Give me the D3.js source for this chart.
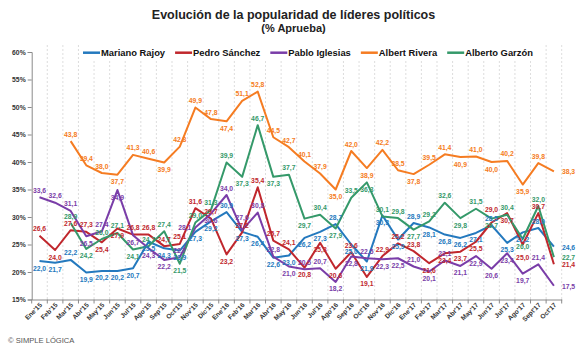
<!DOCTYPE html>
<html><head><meta charset="utf-8">
<script src="https://cdn.jsdelivr.net/npm/d3@7"></script>
<style>
body{margin:0;background:#fff}
svg{display:block;font-family:"Liberation Sans",Arial,sans-serif}
</style>
</head><body>
<svg id="c" width="580" height="349"></svg>
<script>
const months = ["Ene'15","Feb'15","Mar'15","Abr'15","May'15","Jun'15","Jul'15","Ago'15","Sep'15","Oct'15","Nov'15","Dic'15",
  "Ene'16","Feb'16","Mar'16","Abr'16","May'16","Jun'16","Jul'16","Ago'16","Sep'16","Oct'16","Nov'16","Dic'16",
  "Ene'17","Feb'17","Mar'17","Abr'17","May'17","Jun'17","Jul'17","Ago'17","Sept'17","Oct'17"];
const rajoy = [22.0,21.7,22.2,19.9,20.2,20.2,20.7,25.5,24.3,23.9,27.3,29.2,30.9,27.3,26.4,22.6,23.0,26.2,27.3,28.7,25.0,21.9,30.3,25.9,28.9,28.1,26.8,26.2,27.1,28.5,25.3,27.2,28.0,24.6];
const sanchez = [26.6,24.0,27.6,27.3,25.4,27.9,26.8,26.8,24.7,25.1,31.6,29.7,23.2,27.2,35.4,25.7,24.1,20.8,25.3,20.6,23.6,19.1,22.9,25.2,23.8,21.6,23.4,23.7,25.5,29.0,30.7,25.0,30.7,21.4];
const iglesias = [33.6,32.6,31.1,26.5,27.4,34.9,26.7,24.3,22.2,22.7,28.1,30.6,34.0,27.6,30.8,22.8,21.0,20.5,20.7,18.2,22.8,22.5,22.3,22.5,21.0,20.1,22.1,21.1,22.9,20.6,23.4,19.7,21.4,17.5];
const rivera = [null,null,43.8,39.4,38.0,37.7,41.3,40.6,39.9,42.8,49.9,47.8,47.4,51.1,52.8,44.5,42.7,40.1,37.9,35.0,42.0,38.9,42.2,38.5,37.8,39.5,41.4,40.9,41.0,40.0,40.2,35.9,39.8,38.3];
const garzon = [null,null,28.9,24.2,26.0,27.1,24.1,24.7,27.4,21.5,29.0,31.3,39.9,37.3,46.7,37.3,37.7,29.7,30.4,27.9,33.5,36.3,30.1,29.8,27.7,29.2,32.6,29.8,31.5,29.7,30.4,26.0,32.0,22.7];
const seriesNames = ["Mariano Rajoy","Pedro Sánchez","Pablo Iglesias","Albert Rivera","Alberto Garzón"];
const yTicks = [15,20,25,30,35,40,45,50,55,60];
const titleText = "Evolución de la popularidad de líderes políticos";
const subtitleText = "(% Aprueba)";
const creditText = "© SIMPLE LÓGICA";

const colors = ["#2479BE","#C0272D","#7A3DA8","#F57C22","#35996A"];
const defaultDir = [1,-1,-1,-1,-1]; // 1 = below, -1 = above
const allValues = [rajoy,sanchez,iglesias,rivera,garzon];
const series = seriesNames.map((n,k)=>({name:n, values:allValues[k], color:colors[k], dir:defaultDir[k]}));

const svg = d3.select("#c");
const pL = 31.7, pR = 561.7, pT = 52, pB = 299.5;
const x = d3.scaleBand().domain(months).range([pL,pR]).padding(0);
const y = d3.scaleLinear().domain([15,60]).range([pB,pT]);
const cx = i => x(months[i]) + x.bandwidth()/2;
const fmt = v => d3.format(".1f")(v).replace(".",",");

// vertical gridlines
const bounds = d3.range(1, months.length+1).map(k => pL + k*x.bandwidth());
svg.append("g").selectAll("line").data(bounds).join("line")
  .attr("x1",d=>d).attr("x2",d=>d).attr("y1",45).attr("y2",pB)
  .attr("stroke","#d4d4d4").attr("stroke-width",0.8).attr("stroke-dasharray","2,2");

// y axis
const yAxis = svg.append("g").attr("transform",`translate(${pL},0)`)
  .call(d3.axisLeft(y).tickValues(yTicks).tickFormat(d=>d+"%").tickSize(4).tickPadding(2));
yAxis.select(".domain").attr("stroke","#8a8a8a");
yAxis.selectAll(".tick line").attr("stroke","#8a8a8a");
yAxis.selectAll("text").attr("font-size",6.8).attr("font-weight","bold").attr("fill","#333")
  .attr("font-family","Liberation Sans, Arial, sans-serif");

// x axis
const xAxis = svg.append("g").attr("transform",`translate(0,${pB})`)
  .call(d3.axisBottom(x).tickSize(0).tickFormat(d=>d));
xAxis.select(".domain").attr("stroke","#8a8a8a");
xAxis.selectAll(".tick text").attr("font-size",6.6).attr("font-weight","bold").attr("fill","#333")
  .attr("font-family","Liberation Sans, Arial, sans-serif")
  .attr("text-anchor","end").attr("dy",0).attr("y",0)
  .attr("transform","translate(3,6) rotate(-45)");
svg.append("g").selectAll("line").data([pL].concat(bounds)).join("line")
  .attr("x1",d=>d).attr("x2",d=>d).attr("y1",pB).attr("y2",pB+4)
  .attr("stroke","#8a8a8a");

// lines
const line = d3.line().defined(d=>d!=null).x((d,i)=>cx(i)).y(d=>y(d));
svg.append("g").selectAll("path").data(series).join("path")
  .attr("d",s=>line(s.values)).attr("fill","none")
  .attr("stroke",s=>s.color).attr("stroke-width",2).attr("stroke-linejoin","round");

// labels with simple greedy collision avoidance
const FS = 6.8;
const lg = svg.append("g").attr("font-size",FS).attr("font-weight","bold");
const placed = [];
const overlaps = b => placed.some(p => b.x0 < p.x1 && b.x1 > p.x0 && b.y0 < p.y1 && b.y1 > p.y0);
const order = [3,4,0,1,2];
order.forEach(k=>{
  const s = series[k];
  const v = s.values;
  v.forEach((d,i)=>{
    if(d==null) return;
    const t = lg.append("text").attr("fill",s.color).text(fmt(d));
    const w = t.node().getComputedTextLength();
    const px = cx(i), py = y(d);
    const last = i===v.length-1;
    let cands;
    const mk = (tx,ty,anchor)=>{
      const x0 = anchor==="middle" ? tx-w/2 : anchor==="start" ? tx : tx-w;
      return {tx,ty,anchor,x0,x1:x0+w,y0:ty-FS*0.75,y1:ty+0.5};
    };
    if(last){
      cands = [mk(px+8,py+3,"start"), mk(px+8,py-3,"start"), mk(px+8,py+9,"start")];
    } else {
      const p = v[i-1], n = v[i+1];
      let dir = s.dir;
      if(p!=null && n!=null){
        if(d>p && d>n) dir=-1;
        else if(d<p && d<n) dir=1;
      }
      const above = mk(px,py-4.5,"middle"), below = mk(px,py+9.5,"middle");
      const first = dir<0 ? above : below, second = dir<0 ? below : above;
      cands = [first, second, mk(px+4,py+2.5,"start"), mk(px-4,py+2.5,"end"),
               mk(px,dir<0?py-10.5:py+15.5,"middle"), mk(px,dir<0?py+15.5:py-10.5,"middle")];
    }
    let c = cands.find(b=>!overlaps(b)) || cands[0];
    placed.push(c);
    t.attr("x",c.tx).attr("y",c.ty).attr("text-anchor",c.anchor);
  });
});

// legend
const leg = svg.append("g");
leg.append("rect").attr("x",80).attr("y",44).attr("width",458).attr("height",17).attr("fill","#fff");
let lx = 83;
series.forEach(s=>{
  leg.append("line").attr("x1",lx).attr("x2",lx+17).attr("y1",52.7).attr("y2",52.7)
    .attr("stroke",s.color).attr("stroke-width",2.5);
  const t = leg.append("text").attr("x",lx+18).attr("y",56.2).attr("font-size",9.4)
    .attr("font-weight","bold").attr("fill","#111").text(s.name);
  lx += 18 + t.node().getComputedTextLength() + 10;
});

// titles
svg.append("text").attr("x",293.5).attr("y",18.5).attr("text-anchor","middle")
  .attr("font-size",12.5).attr("font-weight","bold").attr("fill","#222").text(titleText);
svg.append("text").attr("x",293.5).attr("y",31.5).attr("text-anchor","middle")
  .attr("font-size",11).attr("font-weight","bold").attr("fill","#222").text(subtitleText);
svg.append("text").attr("x",8).attr("y",343).attr("font-size",7.6)
  .attr("fill","#555").text(creditText);
</script>
</body></html>
